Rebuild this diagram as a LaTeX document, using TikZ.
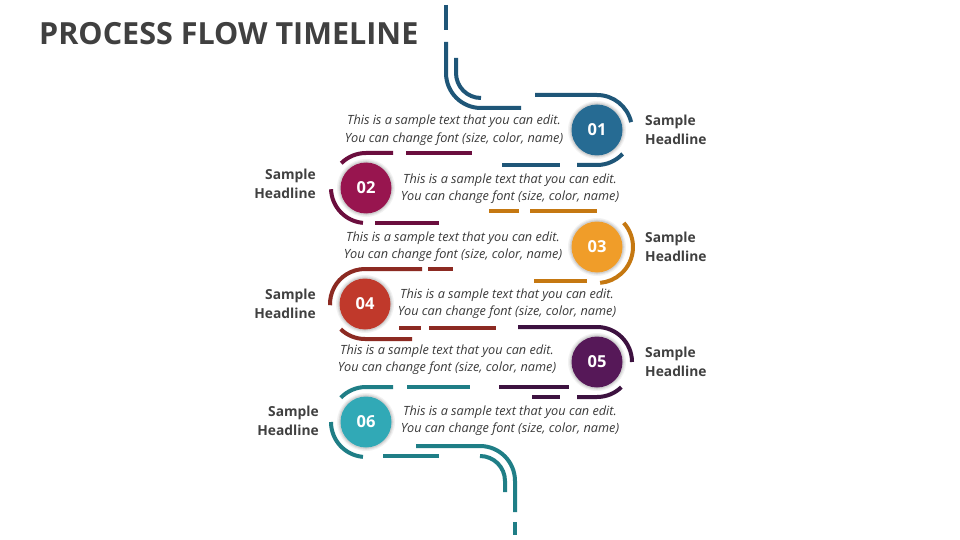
\documentclass[tikz,border=0pt]{standalone}
\usepackage{fontspec}
\setmainfont{Open Sans}
\usetikzlibrary{calc}
\definecolor{titlegray}{HTML}{404040}
\definecolor{textgray}{HTML}{3A3A3A}
\definecolor{blueD}{HTML}{1F5678}
\definecolor{blueF}{HTML}{266B93}
\definecolor{magD}{HTML}{6B0E3E}
\definecolor{magF}{HTML}{98154F}
\definecolor{orgD}{HTML}{C57811}
\definecolor{orgF}{HTML}{F09D29}
\definecolor{redD}{HTML}{8C2A22}
\definecolor{redF}{HTML}{C0392B}
\definecolor{purD}{HTML}{3D1240}
\definecolor{purF}{HTML}{561858}
\definecolor{tealD}{HTML}{1F7E86}
\definecolor{tealF}{HTML}{31A9B6}
\tikzset{
  seg/.style={line width=4pt},
  numcircle/.style={circle, minimum size=51pt, inner sep=0pt, text=white, font=\bfseries\fontsize{16.5}{17}\selectfont},
  headline/.style={inner sep=0pt, text=titlegray, font=\bfseries\fontsize{13.8}{18.5}\selectfont},
  body/.style={inner sep=0pt, text=textgray, align=center, font=\itshape\fontsize{12.7}{17.5}\selectfont},
}
\newcommand{\glow}[1]{%
  \fill[black,opacity=0.05] (#1) circle[radius=29];
  \fill[black,opacity=0.06] (#1) circle[radius=27.8];
  \fill[black,opacity=0.08] (#1) circle[radius=26.8];
}
\begin{document}
\begin{tikzpicture}[x=1pt,y=1pt]
\useasboundingbox (0,0) rectangle (960,-540);
\fill[white] (0,0) rectangle (960,-540);

\node[anchor=base west, inner sep=0pt, text=titlegray, font=\bfseries\fontsize{30.5}{32}\selectfont] (title) at (39,-45) {PROCESS FLOW TIMELINE};

\coordinate (c1) at (597,-130);
\coordinate (c2) at (366,-188);
\coordinate (c3) at (597,-247);
\coordinate (c4) at (365,-304);
\coordinate (c5) at (597,-362);
\coordinate (c6) at (366,-422);

% blue
\draw[seg,blueD] (446,-5) -- (446,-30);
\draw[seg,blueD] (446,-42) -- (446,-73) arc[start angle=180,end angle=270,radius=35] -- (521,-108);
\draw[seg,blueD] (456,-58) -- (456,-73) arc[start angle=180,end angle=270,radius=25];
\draw[seg,blueD] (535,-95) -- (597,-95) arc[start angle=90,end angle=13,radius=35];
\draw[seg,blueD] ($(c1)+(-43:35)$) arc[start angle=-43,end angle=-90,radius=35] -- (577,-165);
\draw[seg,blueD] (502,-165) -- (560,-165);

% magenta
\draw[seg,magD] ($(c2)+(135:35)$) arc[start angle=135,end angle=90,radius=35] -- (393,-153);
\draw[seg,magD] (406,-153) -- (472,-153);
\draw[seg,magD] ($(c2)+(182:35)$) arc[start angle=182,end angle=265,radius=35];
\draw[seg,magD] (375,-223) -- (439,-223);

% orange
\draw[seg,orgD] (489,-211) -- (519,-211);
\draw[seg,orgD] (530,-211) -- (597,-211);
\draw[seg,orgD] ($(c3)+(42:36)$) arc[start angle=42,end angle=-85,radius=36];
\draw[seg,orgD] (534,-281) -- (587,-281);

% red
\draw[seg,redD] ($(c4)+(182:35)$) arc[start angle=182,end angle=90,radius=35] -- (422,-269);
\draw[seg,redD] (428,-269) -- (453,-269);
\draw[seg,redD] ($(c4)+(-134:35)$) arc[start angle=-134,end angle=-90,radius=35] -- (412,-339);
\draw[seg,redD] (399,-328) -- (421,-328);
\draw[seg,redD] (429,-328) -- (496,-328);

% purple
\draw[seg,purD] (518,-327) -- (597,-327) arc[start angle=90,end angle=0,radius=35];
\draw[seg,purD] ($(c5)+(-46:35)$) arc[start angle=-46,end angle=-90,radius=35] -- (577,-397);
\draw[seg,purD] (532,-397) -- (560,-397);
\draw[seg,purD] (499,-387) -- (569,-387);

% teal
\draw[seg,tealD] ($(c6)+(136:35)$) arc[start angle=136,end angle=90,radius=35] -- (393,-387);
\draw[seg,tealD] (407,-387) -- (470,-387);
\draw[seg,tealD] ($(c6)+(180:35)$) arc[start angle=180,end angle=265,radius=35];
\draw[seg,tealD] (383,-456) -- (439,-456);
\draw[seg,tealD] (416,-446) -- (480,-446) arc[start angle=90,end angle=0,radius=35] -- (515,-512);
\draw[seg,tealD] (480,-456) arc[start angle=90,end angle=0,radius=25] -- (505,-492);
\draw[seg,tealD] (515,-522) -- (515,-535);

% circles
\glow{c1}\glow{c2}\glow{c3}\glow{c4}\glow{c5}\glow{c6}
\node[numcircle, fill=blueF] (n1) at (c1) {01};
\node[numcircle, fill=magF] (n2) at (c2) {02};
\node[numcircle, fill=orgF] (n3) at (c3) {03};
\node[numcircle, fill=redF] (n4) at (c4) {04};
\node[numcircle, fill=purF] (n5) at (c5) {05};
\node[numcircle, fill=tealF] (n6) at (c6) {06};

% headlines
\node[headline, anchor=west, align=left] (h1) at (645,-130) {Sample\\Headline};
\node[headline, anchor=east, align=right] (h2) at (316,-184) {Sample\\Headline};
\node[headline, anchor=west, align=left] (h3) at (645,-247) {Sample\\Headline};
\node[headline, anchor=east, align=right] (h4) at (316,-304) {Sample\\Headline};
\node[headline, anchor=west, align=left] (h5) at (645,-362) {Sample\\Headline};
\node[headline, anchor=east, align=right] (h6) at (319,-421) {Sample\\Headline};

% body texts
\node[body] (t1) at (454,-130) {This is a sample text that you can edit.\\You can change font (size, color, name)};
\node[body] (t2) at (510,-188.5) {This is a sample text that you can edit.\\You can change font (size, color, name)};
\node[body] (t3) at (453,-246.5) {This is a sample text that you can edit.\\You can change font (size, color, name)};
\node[body] (t4) at (507,-303.5) {This is a sample text that you can edit.\\You can change font (size, color, name)};
\node[body] (t5) at (447,-359.5) {This is a sample text that you can edit.\\You can change font (size, color, name)};
\node[body] (t6) at (510,-420.5) {This is a sample text that you can edit.\\You can change font (size, color, name)};
\end{tikzpicture}
\end{document}
